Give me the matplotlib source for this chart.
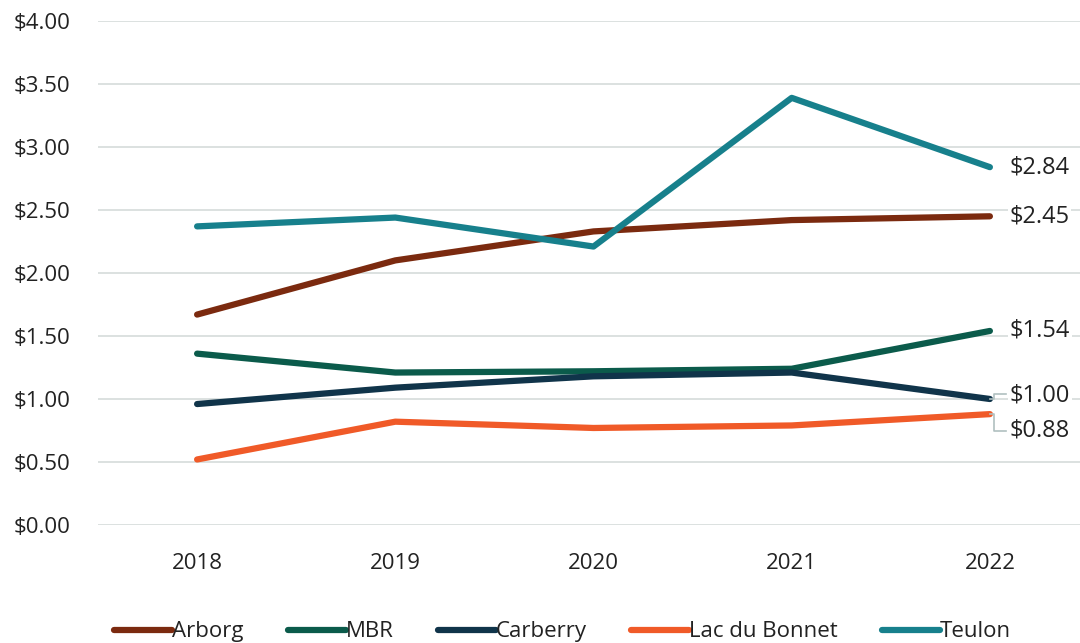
import matplotlib
matplotlib.use("Agg")
import matplotlib.pyplot as plt

plt.rcParams['font.family'] = ['Open Sans', 'DejaVu Sans']

years = ['2018', '2019', '2020', '2021', '2022']
arborg = [1.67, 2.10, 2.33, 2.42, 2.45]
mbr = [1.36, 1.21, 1.22, 1.24, 1.54]
carberry = [0.96, 1.09, 1.18, 1.21, 1.00]
lac_du_bonnet = [0.52, 0.82, 0.77, 0.79, 0.88]
teulon = [2.37, 2.44, 2.21, 3.39, 2.84]

series = [
    ('Arborg', arborg, '#7B2A0F'),
    ('MBR', mbr, '#0B5B4B'),
    ('Carberry', carberry, '#10344A'),
    ('Lac du Bonnet', lac_du_bonnet, '#F05A28'),
    ('Teulon', teulon, '#17808C'),
]

fig = plt.figure(figsize=(10.8, 6.43), dpi=100)
ax = fig.add_axes([98 / 1080, 1 - 525 / 643, 991 / 1080, 504 / 643])

x = list(range(len(years)))
for name, vals, col in series:
    ax.plot(x, vals, color=col, lw=4.5, solid_capstyle='round', label=name, zorder=3)

ax.set_xlim(-0.5, 4.5)
ax.set_ylim(0, 4)
ax.set_yticks([i * 0.5 for i in range(9)])
ax.set_yticklabels(['${:.2f}'.format(i * 0.5) for i in range(9)])
ax.set_xticks(x)
ax.set_xticklabels(years)
ax.grid(axis='y', color='#D9DEDD', lw=1.3)
ax.set_axisbelow(True)
for s in ax.spines.values():
    s.set_visible(False)
ax.tick_params(length=0, labelsize=16, colors='#222222')
ax.tick_params(axis='y', pad=20)
ax.tick_params(axis='x', pad=20)

# end labels
label_pos = {
    'Arborg': 2.45, 'MBR': 1.54, 'Carberry': 1.03,
    'Lac du Bonnet': 0.75, 'Teulon': 2.84,
}
for name, vals, col in series:
    ax.text(4.1, label_pos[name], '${:.2f}'.format(vals[-1]), fontsize=17,
            color='#222222', va='center', ha='left', zorder=5,
            bbox=dict(facecolor='white', edgecolor='none', pad=1))

# leader lines for the two close labels
ax.plot([4.0, 4.02, 4.02, 4.08], [1.0, 1.0, 1.04, 1.04], color='#B0C0C0', lw=1.2, zorder=4)
ax.plot([4.0, 4.02, 4.02, 4.08], [0.88, 0.88, 0.75, 0.75], color='#B0C0C0', lw=1.2, zorder=4)

leg = fig.legend(loc='lower center', bbox_to_anchor=(0.521, -0.03), ncol=5, frameon=False,
                 fontsize=16, handlelength=2.6, handletextpad=0.0, columnspacing=2.0)
for t in leg.get_texts():
    t.set_color('#222222')

fig.savefig('out.png', dpi=100)
